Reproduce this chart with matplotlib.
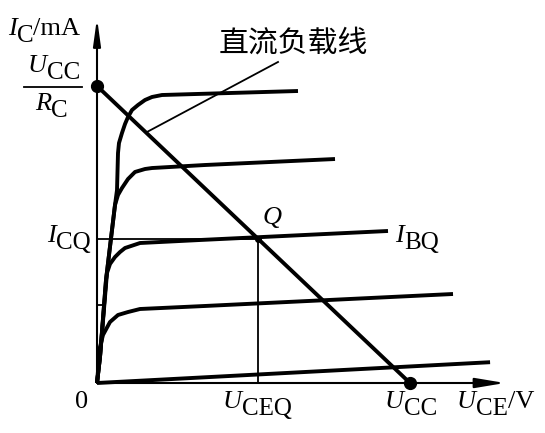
import numpy as np
import matplotlib.pyplot as plt

# transistor output characteristics with the DC load line

plt.rcParams['font.family'] = ['Liberation Serif', 'Noto Sans CJK SC']

# ================================================
# values (U_CE in V, I_C in mA)
U_CC = 12.0
I_max = 6.0          # U_CC / R_C
U_CEQ = 6.17
I_CQ = I_max * (1 - U_CEQ / U_CC)
tick_level = 1.576   # small tick on the I_C axis

# output curves, bottom (I_B = 0) to top
curve0_u = [0.0, 15.07]
curve0_i = [0.0, 0.42]
curve1_u = [0.0, 0.115, 0.23, 0.498, 0.805, 1.189, 1.649, 4.141, 13.649]
curve1_i = [0.0, 0.727, 0.970, 1.232, 1.374, 1.434, 1.495, 1.556, 1.798]
curve2_u = [0.0, 0.115, 0.383, 0.498, 0.690, 0.882, 1.074, 1.649, 3.949, 11.157]
curve2_i = [0.0, 0.525, 2.222, 2.404, 2.545, 2.646, 2.727, 2.828, 2.889, 3.071]
curve3_u = [0.0, 0.115, 0.345, 0.690, 0.805, 0.958, 1.189, 1.457, 1.840, 2.109, 4.141, 9.125]
curve3_i = [0.0, 0.525, 2.081, 3.596, 3.798, 3.939, 4.121, 4.263, 4.323, 4.343, 4.404, 4.525]
curve4_u = [0.0, 0.115, 0.345, 0.690, 0.767, 0.805, 0.843, 0.958, 1.074, 1.189, 1.342,
            1.572, 1.840, 2.109, 2.492, 7.706]
curve4_i = [0.0, 0.525, 2.081, 3.596, 3.899, 4.646, 4.848, 5.051, 5.232, 5.374, 5.515,
            5.616, 5.717, 5.778, 5.818, 5.899]

curves = [(curve0_u, curve0_i), (curve1_u, curve1_i), (curve2_u, curve2_i),
          (curve3_u, curve3_i), (curve4_u, curve4_i)]

# ================================================
fig = plt.figure(figsize=(5.45, 4.33), dpi=100)
ax = fig.add_axes([0, 0, 1, 1])
ax.set_xlim(-3.719, 17.176)
ax.set_ylim(-1.0101, 7.7374)
ax.axis('off')


def label(x, y, main, sub='', tail='', fs=19, sfs=18, drop=5):
    """ Italic symbol with a roman subscript and an optional unit after it. """
    t = ax.text(x, y, main, fontsize=fs, style='italic', ha='left', va='baseline')
    last = t
    if sub:
        last = ax.annotate(sub, xy=(1, 0), xycoords=t, xytext=(0, -drop),
                           textcoords='offset points', fontsize=sfs, ha='left', va='bottom')
    if tail:
        ax.annotate(tail, xy=(1, 0), xycoords=last, xytext=(0, drop if sub else 0),
                    textcoords='offset points', fontsize=fs, ha='left', va='bottom')


# axes with arrows
ax.annotate('', xy=(0, 7.374), xytext=(0, 0),
            arrowprops=dict(arrowstyle='-|>,head_length=1.6,head_width=0.22',
                            lw=1.5, color='black', shrinkA=0, shrinkB=0, mutation_scale=10))
ax.annotate('', xy=(15.642, 0), xytext=(0, 0),
            arrowprops=dict(arrowstyle='-|>,head_length=1.8,head_width=0.3',
                            lw=1.5, color='black', shrinkA=0, shrinkB=0, mutation_scale=10))

for u, i in curves:
    ax.plot(u, i, color='black', lw=2.8, solid_joinstyle='round', solid_capstyle='butt')

# load line
ax.plot([0, U_CC], [I_max, 0], color='black', lw=2.8, solid_capstyle='butt')
ax.plot([0, U_CC], [I_max, 0], 'o', color='black', ms=8.5)
ax.plot([U_CEQ], [I_CQ], 'o', color='black', ms=4)

# Q guide lines and tick
ax.plot([0, U_CEQ], [I_CQ, I_CQ], color='black', lw=1.3)
ax.plot([U_CEQ, U_CEQ], [I_CQ, 0], color='black', lw=1.3)
ax.plot([0, 0.23], [tick_level, tick_level], color='black', lw=1.3)

# leader line for the label
ax.plot([6.940, 1.917], [6.485, 5.071], color='black', lw=1.3)

label(-3.412, 7.030, 'I', 'C', '/mA')
label(-2.645, 6.283, 'U', 'CC')
ax.plot([-2.799, -0.575], [5.980, 5.980], color='black', lw=1.3)
label(-2.377, 5.515, 'R', 'C')
label(-1.917, 2.848, 'I', 'CQ')
ax.text(-0.575, -0.505, '0', fontsize=19, ha='center', va='baseline')
label(6.364, 3.212, 'Q')
label(11.425, 2.848, 'I', 'BQ')
label(4.831, -0.505, 'U', 'CEQ')
label(11.042, -0.505, 'U', 'CC')
label(13.802, -0.505, 'U', 'CE', '/V')
ax.text(7.515, 6.869, '直流负载线', fontsize=21.5, ha='center', va='center',
        family=['Noto Sans CJK SC', 'DejaVu Sans'])

fig.savefig('out.png', dpi=100)
